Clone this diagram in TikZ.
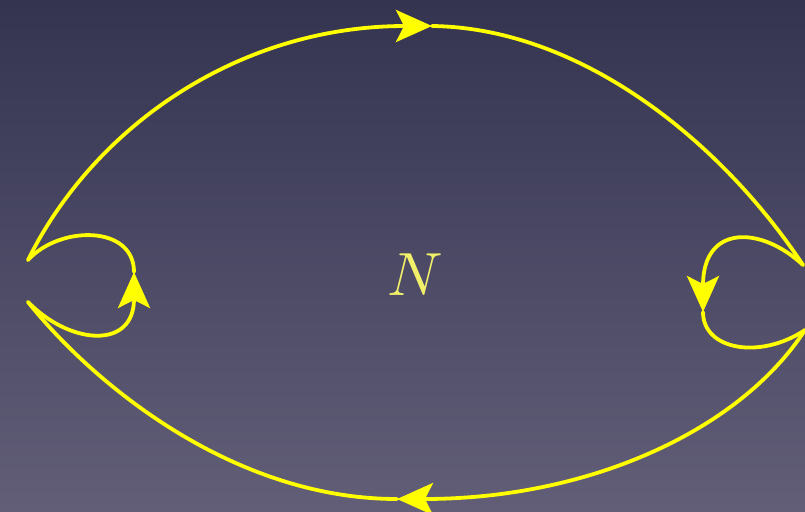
\documentclass[tikz,border=0pt]{standalone}
\usepackage{tikz}
\usetikzlibrary{arrows.meta,positioning,calc}
\usepackage{xcolor}
\definecolor{bgTop}{HTML}{343451}
\definecolor{bgBottom}{HTML}{625E78}
\definecolor{flowYellow}{HTML}{FFFF00}
\definecolor{labelYellow}{HTML}{F2F06A}
\tikzset{
  flow/.style={draw=flowYellow, line width=3.8pt, line cap=round},
  flowarr/.style={flow, -{Stealth[length=36pt, width=32pt, inset=8pt]}},
  lbl/.style={text=labelYellow, scale=6.1, inner sep=0pt},
}
\begin{document}
\begin{tikzpicture}[x=1pt,y=-1pt]
    % background
    \fill[top color=bgTop, bottom color=bgBottom] (0,0) rectangle (805,511);
    \useasboundingbox (0,0) rectangle (805,511);
    % end points
    \coordinate (lt) at (28,260);
    \coordinate (lb) at (28,302);
    \coordinate (rt) at (803,265);
    \coordinate (rb) at (805,330);
    \coordinate (topmid) at (432,26);
    \coordinate (botmid) at (397,499);
    \coordinate (ltip) at (134,272);
    \coordinate (rtip) at (703,312);
    \node[lbl] (n) at (415,275) {$N$};
    % outer arcs
    \draw[flowarr] (lt) .. controls (95,125) and (240,26) .. (topmid);
    \draw[flow] (topmid) .. controls (580,28) and (720,140) .. (rt);
    \draw[flowarr] (rb) .. controls (740,430) and (590,499) .. (botmid);
    \draw[flow] (botmid) .. controls (230,499) and (90,380) .. (lb);
    % small loops
    \draw[flowarr] (lb) .. controls (70,345) and (134,350) .. (ltip);
    \draw[flow] (ltip) .. controls (134,225) and (60,225) .. (lt);
    \draw[flowarr] (rt) .. controls (760,225) and (703,225) .. (rtip);
    \draw[flow] (rtip) .. controls (703,350) and (760,360) .. (rb);
\end{tikzpicture}
\end{document}
